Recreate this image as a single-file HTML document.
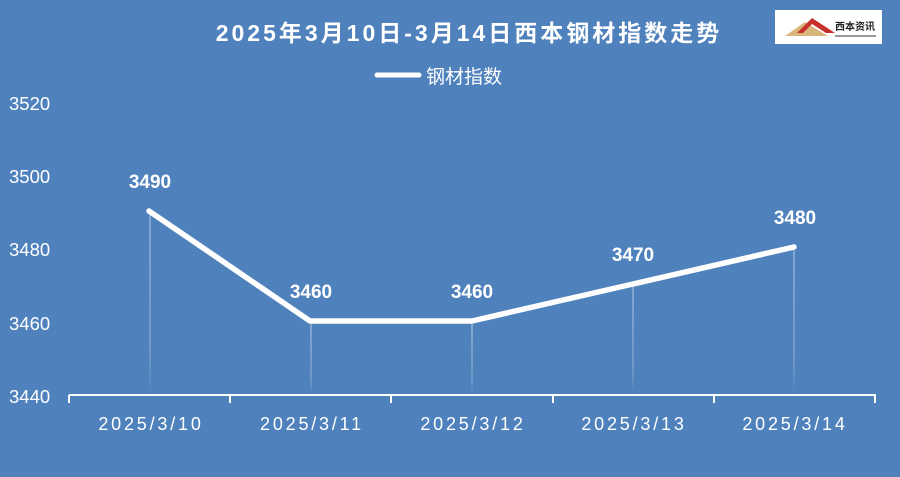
<!DOCTYPE html>
<html><head><meta charset="utf-8"><style>
html,body{margin:0;padding:0;background:#4f81bd;}
svg{display:block;}
</style></head><body>
<svg width="900" height="477" viewBox="0 0 900 477" xmlns="http://www.w3.org/2000/svg" font-family="'Liberation Sans','Noto Sans CJK SC',sans-serif">
<defs>
<linearGradient id="fd" x1="0" y1="0" x2="0" y2="1">
<stop offset="0" stop-color="#fff" stop-opacity="0.6"/>
<stop offset="0.8" stop-color="#fff" stop-opacity="0.35"/>
<stop offset="1" stop-color="#fff" stop-opacity="0"/>
</linearGradient>
</defs>
<rect width="900" height="477" fill="#4f81bd"/>
<text x="469" y="41" text-anchor="middle" font-size="23" font-weight="bold" fill="#fff" letter-spacing="3">2025年3月10日-3月14日西本钢材指数走势</text>
<rect x="775" y="10" width="107" height="34" fill="#fff"/>
<polygon points="785,36 805,22 818,30 828,36" fill="#d9b77a"/>
<polygon points="797,33 812,18 835,33 826,33 812,24 803,33" fill="#c8302b"/>
<text x="835" y="30" font-size="10" font-weight="bold" fill="#222">西本资讯</text>
<line x1="835" y1="36" x2="876" y2="36" stroke="#333" stroke-width="1"/>
<line x1="377" y1="75" x2="419" y2="75" stroke="#fff" stroke-width="5" stroke-linecap="round"/>
<text x="426" y="83" font-size="19" fill="#fff">钢材指数</text>
<g font-size="18.5" fill="#fff">
<text x="9" y="110">3520</text>
<text x="9" y="183">3500</text>
<text x="9" y="256">3480</text>
<text x="9" y="330">3460</text>
<text x="9" y="403">3440</text>
</g>
<rect x="149.5" y="211" width="1" height="183" fill="url(#fd)"/>
<rect x="310.5" y="321" width="1" height="73" fill="url(#fd)"/>
<rect x="471.5" y="321" width="1" height="73" fill="url(#fd)"/>
<rect x="632.5" y="284" width="1" height="110" fill="url(#fd)"/>
<rect x="793.5" y="247" width="1" height="147" fill="url(#fd)"/>
<g stroke="#fff" stroke-width="2" fill="none">
<line x1="69" y1="395" x2="876" y2="395"/>
<line x1="69" y1="395" x2="69" y2="403"/>
<line x1="230" y1="395" x2="230" y2="403"/>
<line x1="391" y1="395" x2="391" y2="403"/>
<line x1="553" y1="395" x2="553" y2="403"/>
<line x1="714" y1="395" x2="714" y2="403"/>
<line x1="875" y1="395" x2="875" y2="403"/>
</g>
<g font-size="18" fill="#fff" text-anchor="middle" letter-spacing="2.8">
<text x="151" y="430">2025/3/10</text>
<text x="312" y="430">2025/3/11</text>
<text x="473" y="430">2025/3/12</text>
<text x="634" y="430">2025/3/13</text>
<text x="795" y="430">2025/3/14</text>
</g>
<polyline points="149,211 310,321 472,321 633,284 794,247" fill="none" stroke="#fff" stroke-width="5.5" stroke-linecap="round" stroke-linejoin="round"/>
<g font-size="19" font-weight="bold" fill="#fff" text-anchor="middle">
<text x="150" y="188">3490</text>
<text x="311" y="298">3460</text>
<text x="472" y="298">3460</text>
<text x="633" y="261">3470</text>
<text x="795" y="224">3480</text>
</g>
</svg>
</body></html>
